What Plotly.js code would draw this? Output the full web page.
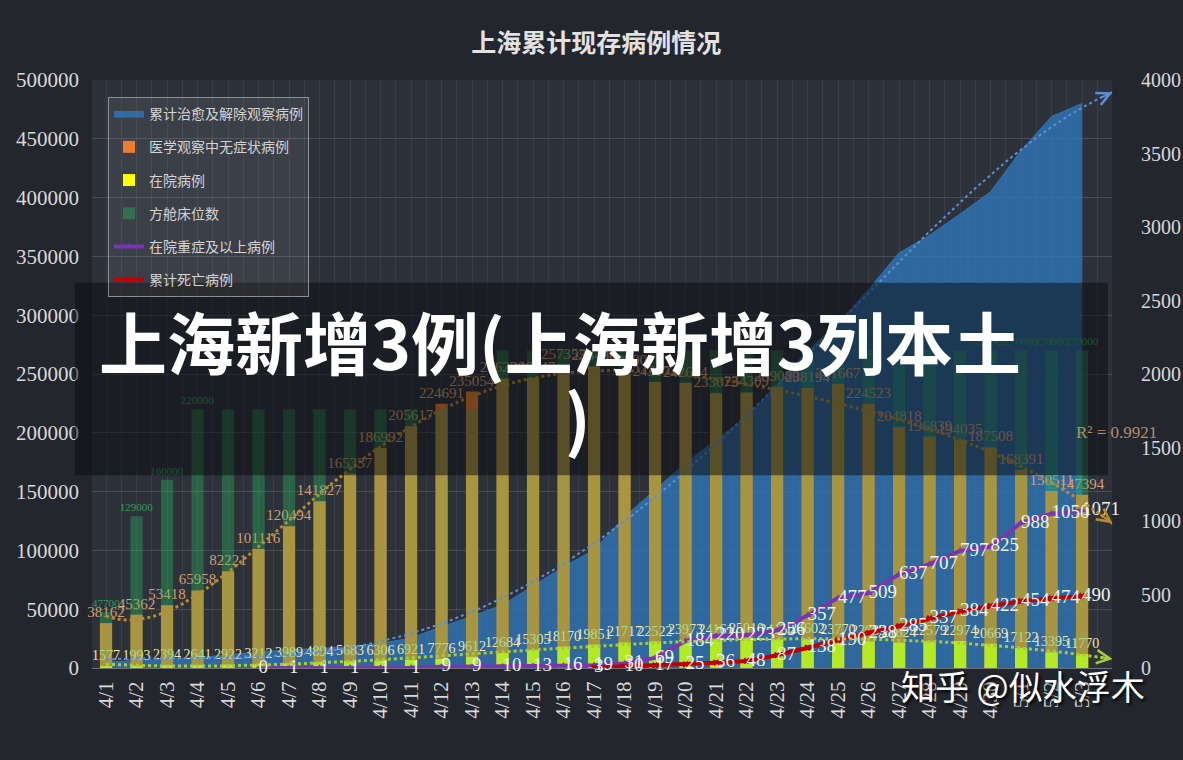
<!DOCTYPE html>
<html><head><meta charset="utf-8">
<script src="https://cdn.plot.ly/plotly-3.0.1.min.js"></script>
<style>html,body{margin:0;padding:0;background:#23262d;}</style>
</head><body><div id="chart" style="width:1183px;height:760px;"></div>
<script>
const dates = ['4/1','4/2','4/3','4/4','4/5','4/6','4/7','4/8','4/9','4/10','4/11','4/12','4/13','4/14','4/15','4/16','4/17','4/18','4/19','4/20','4/21','4/22','4/23','4/24','4/25','4/26','4/27','4/28','4/29','4/30','5/1','5/2','5/3'];
const cured = [5000,6000,7500,9000,11000,13900,15500,17000,18100,21000,25500,35100,44000,53600,70000,86100,100300,128700,151400,174300,193900,213700,240600,270000,293000,322000,353000,368000,386000,405000,440000,469000,480000];
const asymptomatic = [38162,45362,53418,65958,82221,101116,120494,141827,165337,186992,205617,224691,235054,246226,246847,257352,256400,252800,243172,242634,233673,234309,239080,238194,241667,224523,204818,196839,194035,187508,168391,150511,147394];
const hospitalized = [1577,1993,2394,2641,2922,3212,3989,4894,5683,6306,6921,7776,9612,12684,15305,18170,19851,21717,22522,23973,24161,25010,24130,24602,23770,22689,21624,22579,22974,20669,17122,13395,11770];
const cabinBeds = [47700,129000,160000,220000,220000,220000,220000,220000,220000,220000,220000,220000,220000,270000,270000,270000,270000,270000,270000,270000,270000,270000,270000,270000,270000,270000,270000,270000,270000,270000,270000,270000,270000];
const severe = [null,null,null,null,null,0,1,1,1,1,1,9,9,10,13,16,19,31,69,184,220,223,256,357,477,509,637,707,797,825,988,1050,1071];
const deaths = [null,null,null,null,null,null,null,null,null,null,null,null,null,null,null,null,3,10,17,25,36,48,87,138,190,238,285,337,384,422,454,474,490];
const cabinLabelDays = ['4/1','4/2','4/3','4/4','4/30','5/1','5/2','5/3'];
const seriesNames = ['累计治愈及解除观察病例','医学观察中无症状病例','在院病例','方舱床位数','在院重症及以上病例','累计死亡病例'];
const chartTitle = '上海累计现存病例情况';
const rSquaredText = 'R² = 0.9921';
const bannerLine1 = '上海新增3例(上海新增3列本土';
const bannerLine2 = ')';
const watermark = '知乎 @似水浮木';

const idx = dates.map((d,i)=>i);
const N = dates.length;

function polyfit(ys, order){
  const n = order+1, s = N-1;
  const A = Array.from({length:n},()=>new Array(n).fill(0));
  const b = new Array(n).fill(0);
  ys.forEach((y,i)=>{
    if(y==null) return;
    const t = i/s;
    for(let r=0;r<n;r++){
      b[r] += Math.pow(t,r)*y;
      for(let c=0;c<n;c++) A[r][c] += Math.pow(t,r+c);
    }
  });
  for(let i=0;i<n;i++){
    let p=i; for(let k=i+1;k<n;k++) if(Math.abs(A[k][i])>Math.abs(A[p][i])) p=k;
    [A[i],A[p]]=[A[p],A[i]]; [b[i],b[p]]=[b[p],b[i]];
    for(let k=i+1;k<n;k++){ const f=A[k][i]/A[i][i]; for(let c=i;c<n;c++) A[k][c]-=f*A[i][c]; b[k]-=f*b[i]; }
  }
  const co=new Array(n).fill(0);
  for(let i=n-1;i>=0;i--){ let v=b[i]; for(let c=i+1;c<n;c++) v-=A[i][c]*co[c]; co[i]=v/A[i][i]; }
  return x => co.reduce((acc,c,k)=>acc + c*Math.pow(x/s,k),0);
}
const forecastEnd = N; // one period forward
function trendXY(f){
  const xs=[], ys=[];
  for(let x=0;x<=forecastEnd+1e-9;x+=0.25){ xs.push(x); ys.push(f(x)); }
  return {xs, ys};
}
const fCured = polyfit(cured,4);
const fAsym = polyfit(asymptomatic,6);
const fHosp = polyfit(hospitalized,4);
const tCured = trendXY(fCured), tAsym = trendXY(fAsym), tHosp = trendXY(fHosp);

const serif = 'Liberation Serif, Times New Roman, serif';
const cjk = 'Noto Sans CJK SC, sans-serif';
const barW = 0.4;

const traces = [
  {type:'scatter', mode:'lines', x:idx, y:cured, yaxis:'y', name:seriesNames[0], legendgroup:'g1',
   fill:'tozeroy', fillcolor:'rgba(46,117,182,0.82)', line:{color:'rgba(46,117,182,1)', width:1}, hoverinfo:'y'},
  {type:'bar', x:idx, y:asymptomatic, yaxis:'y2', name:seriesNames[1], legendgroup:'g2', width:barW,
   marker:{color:'rgb(237,125,49)'}, text:asymptomatic.map(String), textposition:'outside', textangle:0,
   constraintext:'none', cliponaxis:false, textfont:{family:serif, size:15, color:'#d39d76'}},
  {type:'bar', x:idx, y:hospitalized, yaxis:'y2', name:seriesNames[2], legendgroup:'g3', width:barW,
   marker:{color:'rgb(255,255,0)'}, text:hospitalized.map(String), textposition:'outside', textangle:0,
   constraintext:'none', cliponaxis:false, textfont:{family:serif, size:14, color:'#efe7b0'}},
  {type:'bar', x:idx, y:cabinBeds, yaxis:'y2', name:seriesNames[3], legendgroup:'g4', width:barW,
   marker:{color:'rgba(40,196,95,0.35)'}, text:cabinBeds.map((v,i)=>cabinLabelDays.includes(dates[i])?String(v):''),
   textposition:'outside', textangle:0, constraintext:'none', cliponaxis:false,
   textfont:{family:serif, size:11, color:'#2f9c5a'}},
  {type:'scatter', mode:'lines+markers', x:idx, y:severe, yaxis:'y3', name:seriesNames[4], legendgroup:'g5',
   line:{color:'#7a35b0', width:4}, marker:{symbol:'triangle-up', size:7, color:'#7a35b0'}},
  {type:'scatter', mode:'lines+markers', x:idx, y:deaths, yaxis:'y3', name:seriesNames[5], legendgroup:'g6',
   line:{color:'#c00000', width:4}, marker:{symbol:'x', size:6, color:'#c00000'}},
  {type:'scatter', mode:'text', x:idx, y:severe, yaxis:'y3', showlegend:false, text:severe.map(v=>v==null?'':String(v)),
   textposition:'middle right', cliponaxis:false, textfont:{family:serif, size:19, color:'#f2f2f2'}},
  {type:'scatter', mode:'text', x:idx, y:deaths, yaxis:'y3', showlegend:false, text:deaths.map(v=>v==null?'':String(v)),
   textposition:'middle right', cliponaxis:false, textfont:{family:serif, size:19, color:'#f2f2f2'}},
  {type:'scatter', mode:'lines', x:tCured.xs, y:tCured.ys, yaxis:'y4', showlegend:false, hoverinfo:'skip',
   line:{color:'#5b8fd6', width:2, dash:'dot'}},
  {type:'scatter', mode:'lines', x:tAsym.xs, y:tAsym.ys, yaxis:'y4', showlegend:false, hoverinfo:'skip',
   line:{color:'#b88a32', width:3, dash:'dot'}},
  {type:'scatter', mode:'lines', x:tHosp.xs, y:tHosp.ys, yaxis:'y4', showlegend:false, hoverinfo:'skip',
   line:{color:'#a9c93c', width:3, dash:'dot'}}
];

function arrowAnn(f,color){
  return {x:forecastEnd, y:f(forecastEnd), ax:forecastEnd-0.45, ay:f(forecastEnd-0.45), xref:'x', yref:'y4', axref:'x', ayref:'y4',
    text:'', showarrow:true, arrowhead:5, arrowsize:1.3, arrowwidth:2, arrowcolor:color};
}

const gridC = 'rgba(255,255,255,0.13)';
const layout = {
  width:1183, height:760, autosize:false,
  paper_bgcolor:'#23262d', plot_bgcolor:'#2d313a',
  margin:{l:92, r:71, t:80, b:92},
  barmode:'overlay',
  title:{text:chartTitle, font:{family:cjk, size:25, color:'#e2e2e2', weight:'bold'}, x:0.504, xanchor:'center', yref:'container', y:0.943, yanchor:'middle'},
  xaxis:{type:'linear', range:[-0.46,32.98], tickmode:'array', tickvals:idx, ticktext:dates, tickangle:-90,
    tickfont:{family:serif, size:21, color:'#d9d9d9'}, showgrid:true, gridcolor:'rgba(255,255,255,0.06)',
    minor:{tickmode:'linear', tick0:-0.5, dtick:1, showgrid:true, gridcolor:'rgba(255,255,255,0.06)'},
    showline:true, linecolor:'rgba(255,255,255,0.35)', zeroline:false, ticks:'', ticklabelstandoff:4},
  yaxis:{range:[0,500000], dtick:50000, tickformat:'d', tickfont:{family:serif, size:21, color:'#d9d9d9'},
    gridcolor:gridC, zeroline:false, ticks:'', ticklabelstandoff:12},
  yaxis2:{overlaying:'y', range:[0,500000], visible:false},
  yaxis3:{overlaying:'y', side:'right', range:[0,4000], dtick:500, showgrid:false, zeroline:false, ticks:'',
    tickfont:{family:serif, size:20, color:'#d9d9d9'}, ticklabelstandoff:28},
  yaxis4:{overlaying:'y', range:[0,500000], visible:false},
  legend:{x:0.0157, y:0.971, xanchor:'left', yanchor:'top', bgcolor:'rgba(255,255,255,0.07)', bordercolor:'rgba(220,220,220,0.55)', borderwidth:1,
    font:{family:cjk, size:14, color:'#d4d4d4'}, traceorder:'grouped', tracegroupgap:12, itemwidth:30},
  shapes:[{type:'rect', xref:'paper', yref:'paper', x0:-0.0167, x1:0.996, y0:0.328, y1:0.655, layer:'above',
    fillcolor:'rgba(8,9,12,0.5)', line:{width:0}}],
  annotations:[
    arrowAnn(fCured,'#5b8fd6'), arrowAnn(fAsym,'#b88a32'), arrowAnn(fHosp,'#a9c93c'),
    {text:rSquaredText, xref:'paper', yref:'paper', x:1.004, y:0.401, xanchor:'center', showarrow:false, font:{family:serif, size:17, color:'#b58d6c'}},
    {text:bannerLine1, xref:'paper', yref:'paper', x:0.459, y:0.557, xanchor:'center', showarrow:false, font:{family:cjk, size:68, color:'#ffffff', weight:'bold'}},
    {text:bannerLine2, xref:'paper', yref:'paper', x:0.476, y:0.43, xanchor:'center', showarrow:false, font:{family:cjk, size:68, color:'#ffffff', weight:'bold'}},
    {text:watermark, xref:'paper', yref:'paper', x:0.913, y:-0.075, xanchor:'center', showarrow:false, font:{family:cjk, size:34, color:'#ffffff', shadow:'2px 2px 3px rgba(0,0,0,0.9)'}}
  ]
};
Plotly.newPlot('chart', traces, layout, {displayModeBar:false, staticPlot:true});
</script></body></html>
